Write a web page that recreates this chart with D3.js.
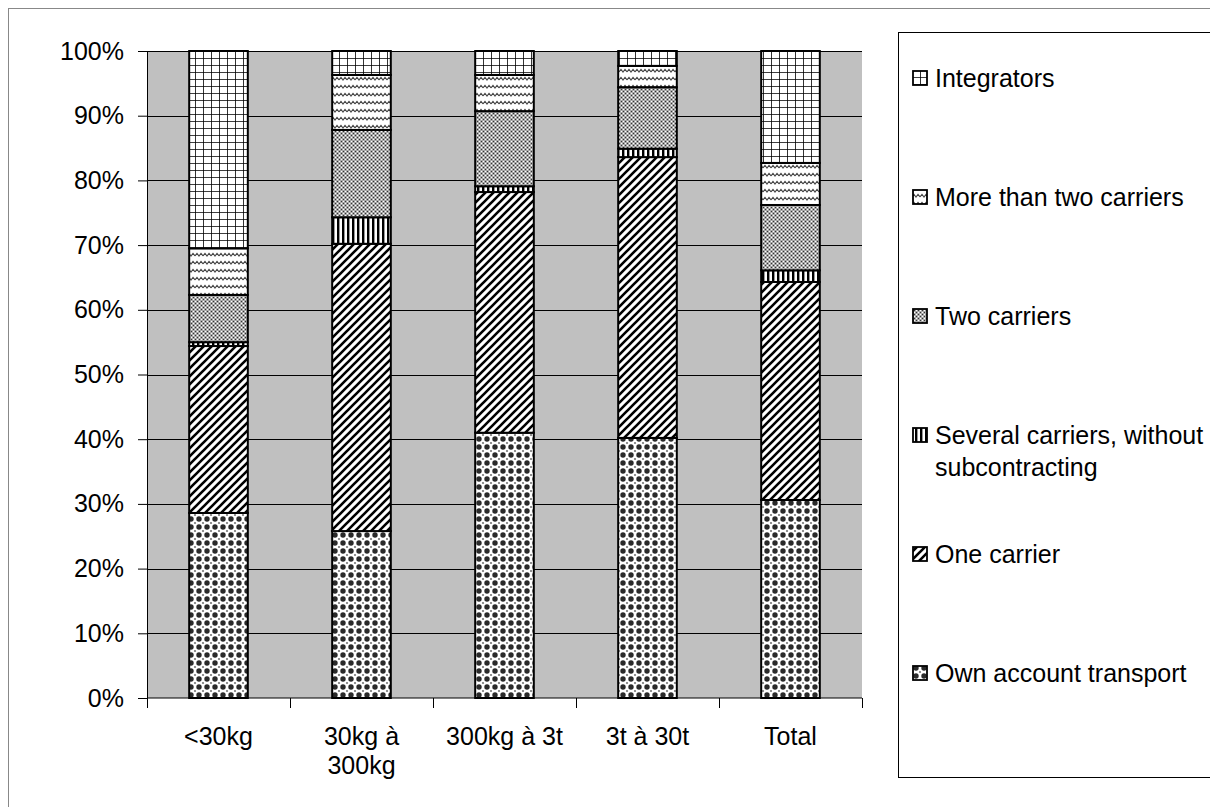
<!DOCTYPE html>
<html>
<head>
<meta charset="utf-8">
<script src="https://cdn.jsdelivr.net/npm/d3@7"></script>
<style>
  body { margin: 0; background: #fff; }
  text { font-family: "Liberation Sans", Arial, sans-serif; }
</style>
</head>
<body>
<div id="chart"></div>
<script>
// categories and series (percent)
const categories = ["<30kg", "30kg à\n300kg", "300kg à 3t", "3t à 30t", "Total"];
const seriesNames = ["Own account transport", "One carrier", "Several carriers, without\nsubcontracting", "Two carriers", "More than two carriers", "Integrators"];
const ownAccount = [28.6, 25.8, 41.0, 40.2, 30.6];
const oneCarrier = [25.8, 44.4, 37.2, 43.4, 33.7];
const severalCarriers = [0.6, 4.1, 0.9, 1.3, 1.8];
const twoCarriers = [7.3, 13.5, 11.6, 9.5, 10.1];
const moreThanTwo = [7.2, 8.5, 5.6, 3.3, 6.5];
const integrators = [30.5, 3.7, 3.7, 2.3, 17.3];
const yTicks = [0, 10, 20, 30, 40, 50, 60, 70, 80, 90, 100];

const seriesValues = [ownAccount, oneCarrier, severalCarriers, twoCarriers, moreThanTwo, integrators];
const patternIds = ["pOwn", "pOne", "pSev", "pTwo", "pMore", "pInt"];

const W = 1210, H = 807;
const margin = {top: 51, right: 348, bottom: 109, left: 147};
const width = W - margin.left - margin.right;
const height = H - margin.top - margin.bottom;
const FS = 25;

const svg = d3.select("#chart").append("svg")
  .attr("width", W).attr("height", H);

// patterns
const defs = svg.append("defs");
function pat(id, w, h) {
  const p = defs.append("pattern").attr("id", id)
    .attr("patternUnits", "userSpaceOnUse").attr("width", w).attr("height", h);
  p.append("rect").attr("width", w).attr("height", h).attr("fill", "#fff");
  return p;
}
// own account: big dots
let p = pat("pOwn", 8, 8);
p.append("circle").attr("cx", 4).attr("cy", 4).attr("r", 2.7).attr("fill", "#2a2a2a");
p.append("circle").attr("cx", 0).attr("cy", 0).attr("r", 1.1).attr("fill", "#777");
p.append("circle").attr("cx", 8).attr("cy", 0).attr("r", 1.1).attr("fill", "#777");
p.append("circle").attr("cx", 0).attr("cy", 8).attr("r", 1.1).attr("fill", "#777");
p.append("circle").attr("cx", 8).attr("cy", 8).attr("r", 1.1).attr("fill", "#777");
// one carrier: wide diagonal
p = pat("pOne", 8, 8);
p.append("path").attr("d", "M-2,2 L2,-2 M0,8 L8,0 M6,10 L10,6")
  .attr("stroke", "#000").attr("stroke-width", 2.6);
// several: vertical lines
p = pat("pSev", 5, 5);
p.append("rect").attr("x", 0).attr("width", 2.4).attr("height", 5).attr("fill", "#000");
// two carriers: fine gray checker
p = pat("pTwo", 4, 4);
p.append("rect").attr("width", 4).attr("height", 4).attr("fill", "#a8a8a8");
p.append("rect").attr("x", 0).attr("y", 0).attr("width", 1).attr("height", 1).attr("fill", "#333");
p.append("rect").attr("x", 2).attr("y", 2).attr("width", 1).attr("height", 1).attr("fill", "#333");
p.append("rect").attr("x", 2).attr("y", 0).attr("width", 1).attr("height", 1).attr("fill", "#fff");
p.append("rect").attr("x", 0).attr("y", 2).attr("width", 1).attr("height", 1).attr("fill", "#fff");
// more than two: wave
p = pat("pMore", 8, 8);
p.append("path").attr("d", "M0,5 L2,2.5 L4,5 L6,2.5 L8,5")
  .attr("fill", "none").attr("stroke", "#444").attr("stroke-width", 1.1);
// integrators: grid
p = pat("pInt", 8, 7);
p.append("path").attr("d", "M0,0 L8,0 M0,0 L0,7")
  .attr("stroke", "#000").attr("stroke-width", 1.6);

// outer frame
svg.append("rect").attr("x", 8.5).attr("y", 8.5).attr("width", W).attr("height", H)
  .attr("fill", "none").attr("stroke", "#888").attr("stroke-width", 1);

const g = svg.append("g").attr("transform", `translate(${margin.left},${margin.top})`);

const x = d3.scaleBand().domain(categories).range([0, width]).paddingInner(0.59).paddingOuter(0.295);
const y = d3.scaleLinear().domain([0, 100]).range([height, 0]);

g.append("rect").attr("width", width).attr("height", height).attr("fill", "#c0c0c0");

// gridlines
g.selectAll(".grid").data(yTicks.slice(1)).enter().append("line")
  .attr("x1", 0).attr("x2", width)
  .attr("y1", d => Math.round(y(d)) + 0.5).attr("y2", d => Math.round(y(d)) + 0.5)
  .attr("stroke", "#000").attr("stroke-width", 1);

// stacked bars
const table = categories.map((c, i) => {
  const row = {cat: c};
  seriesValues.forEach((s, j) => { row["s" + j] = s[i]; });
  return row;
});
const stack = d3.stack().keys(seriesValues.map((s, j) => "s" + j));
const layers = stack(table);

g.selectAll(".layer").data(layers).enter().append("g")
  .attr("fill", (d, i) => `url(#${patternIds[i]})`)
  .selectAll("rect").data(d => d).enter().append("rect")
  .attr("x", d => x(d.data.cat))
  .attr("width", x.bandwidth())
  .attr("y", d => y(d[1]))
  .attr("height", d => y(d[0]) - y(d[1]))
  .attr("stroke", "#000").attr("stroke-width", 2);

// y axis
const yAxis = g.append("g")
  .call(d3.axisLeft(y).tickValues(yTicks).tickFormat(d => d + "%").tickSize(9).tickPadding(14));
yAxis.select(".domain").attr("stroke", "#000");
yAxis.selectAll("text").attr("font-size", FS).attr("fill", "#000")
  .style("font-family", "Liberation Sans, Arial, sans-serif");

// x axis
const step = x.step();
const xb = g.append("g").attr("transform", `translate(0,${height})`);
xb.append("line").attr("x1", 0).attr("x2", width).attr("stroke", "#000");
xb.selectAll(".tk").data(d3.range(categories.length + 1)).enter().append("line")
  .attr("x1", d => d * step + 0.5).attr("x2", d => d * step + 0.5)
  .attr("y1", 0).attr("y2", 10).attr("stroke", "#000");
xb.selectAll(".lbl").data(categories).enter().append("text")
  .attr("y", 47)
  .attr("text-anchor", "middle").attr("font-size", FS).attr("fill", "#000")
  .each(function(d) {
    const parts = d.split("\n");
    d3.select(this).selectAll("tspan").data(parts).enter().append("tspan")
      .attr("x", x(d) + x.bandwidth() / 2)
      .attr("dy", (t, k) => k === 0 ? 0 : 29)
      .text(t => t);
  });

// legend
const lg = svg.append("g");
lg.append("rect").attr("x", 898.5).attr("y", 32.5).attr("width", 330).attr("height", 745)
  .attr("fill", "#fff").attr("stroke", "#000");
const legendOrder = d3.range(seriesNames.length).reverse();
const legendY = [78, 197, 316, 435, 554, 673];
legendOrder.forEach((si, k) => {
  const yy = legendY[k];
  lg.append("rect").attr("x", 913).attr("y", yy - 7).attr("width", 14).attr("height", 14)
    .attr("fill", `url(#${patternIds[si]})`).attr("stroke", "#000").attr("stroke-width", 1.8);
  const t = lg.append("text").attr("x", 935).attr("y", yy + 9).attr("font-size", 25).attr("fill", "#000");
  seriesNames[si].split("\n").forEach((line, m) => {
    t.append("tspan").attr("x", 935).attr("dy", m === 0 ? 0 : 32).text(line);
  });
});
</script>
</body>
</html>
